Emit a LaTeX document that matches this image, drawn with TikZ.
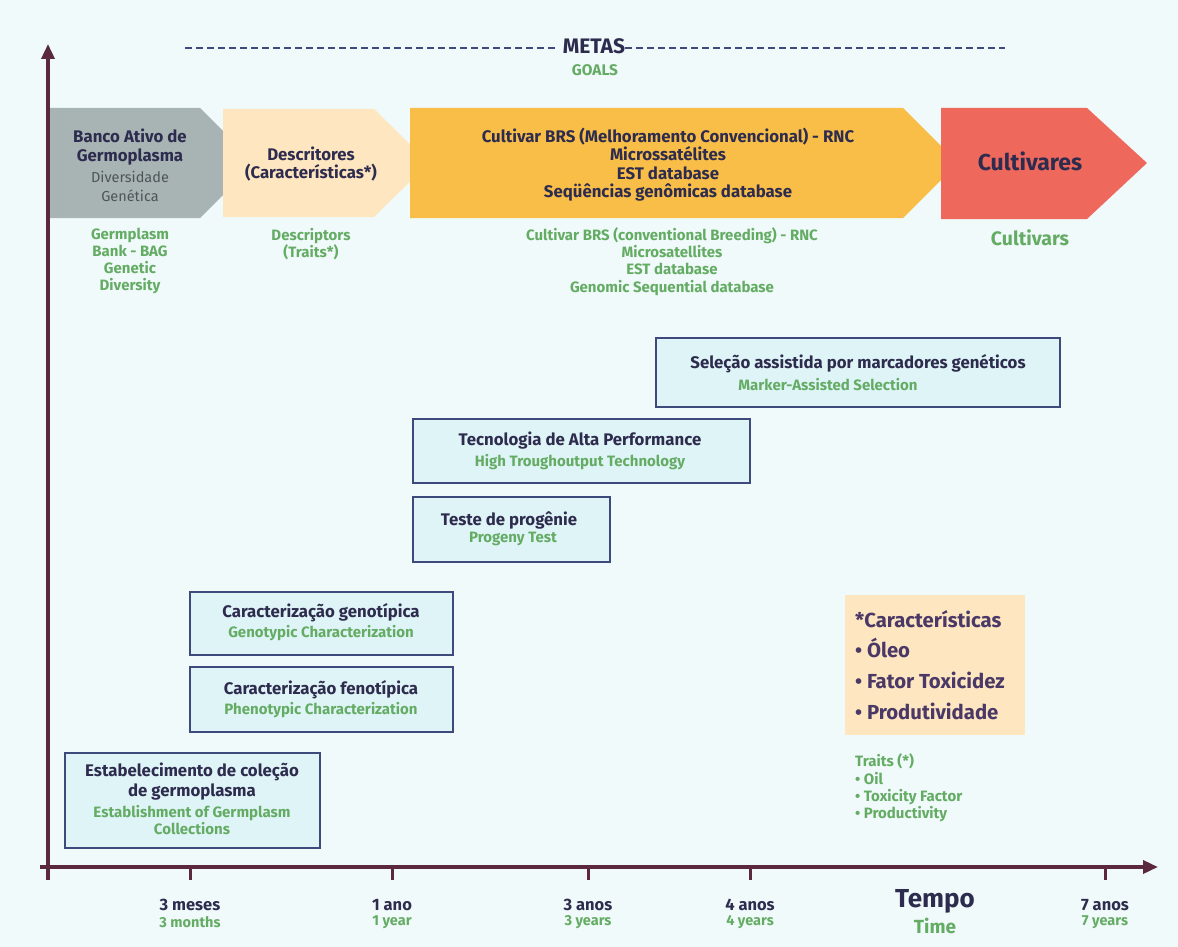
\documentclass[tikz,border=0pt]{standalone}
\usepackage{fontspec}
\setmainfont{Fira Sans}
\usetikzlibrary{arrows.meta}
\definecolor{bg}{RGB}{240,250,250}
\definecolor{navy}{RGB}{46,44,78}
\definecolor{boxc}{RGB}{62,74,124}
\definecolor{boxfill}{RGB}{223,244,247}
\definecolor{grn}{RGB}{100,172,100}
\definecolor{axisc}{RGB}{92,40,62}
\definecolor{grayar}{RGB}{168,180,180}
\definecolor{graytext}{RGB}{78,84,90}
\definecolor{beigear}{RGB}{253,230,192}
\definecolor{orangear}{RGB}{249,190,72}
\definecolor{redar}{RGB}{238,104,92}
\definecolor{purp}{RGB}{74,56,102}
\begin{document}
\begin{tikzpicture}[x=1pt,y=-1pt,
  pt/.style={font=\bfseries\fontsize{16.8}{18.4}\selectfont, text=navy, align=center, inner sep=0pt},
  en/.style={font=\bfseries\fontsize{15}{17.2}\selectfont, text=grn, align=center, inner sep=0pt},
  tbox/.style={draw=boxc, line width=2.6pt, fill=boxfill, inner sep=0pt},
  axisline/.style={draw=axisc, line width=3.5pt},
  ticklbl/.style={font=\bfseries\fontsize{16.5}{18}\selectfont, text=navy, inner sep=0pt},
  ticklblen/.style={font=\bfseries\fontsize{14.5}{16}\selectfont, text=grn, inner sep=0pt}]
\useasboundingbox (0,0) rectangle (1178,947);
\fill[bg] (0,0) rectangle (1178,947);

% goal arrows
\fill[grayar] (50,108) -- (200,108) -- (255,163) -- (200,218) -- (50,218) -- cycle;
\fill[beigear] (223,109) -- (374,109) -- (429,163) -- (374,217) -- (223,217) -- cycle;
\fill[orangear] (410,108) -- (903,108) -- (958,163) -- (903,218) -- (410,218) -- cycle;
\fill[redar] (941,108) -- (1087,108) -- (1147,163) -- (1087,219) -- (941,219) -- cycle;

% dashed METAS line
\node[font=\bfseries\fontsize{21}{24}\selectfont, text=navy, inner sep=0pt] (metas) at (594,46) {METAS};
\node[font=\bfseries\fontsize{15.4}{18}\selectfont, text=grn, inner sep=0pt] (goals) at (595,70) {GOALS};
\coordinate (dl1) at (185,48);
\coordinate (dl2) at (1005,48);
\draw[boxc, line width=2pt, dash pattern=on 7pt off 4pt] (dl1) -- ([xshift=-5pt]dl1 -| metas.west);
\draw[boxc, line width=2pt, dash pattern=on 7pt off 4pt] (dl2 -| metas.east) -- (dl2);

% texts in arrows
\node[pt] (bag) at (130,147) {Banco Ativo de\\Germoplasma};
\node[font=\fontsize{14.5}{19.5}\selectfont, text=graytext, align=center, inner sep=0pt] (bagdiv) at (130,186.5) {Diversidade\\Genética};
\node[en] (bagen) at (130,261) {Germplasm\\Bank - BAG\\Genetic\\Diversity};
\node[pt] (desc) at (311,164) {Descritores\\(Características*)};
\node[en] (descen) at (311,244.5) {Descriptors\\(Traits*)};
\node[pt] (cult) at (668,164.5) {Cultivar BRS (Melhoramento Convencional) - RNC\\Microssatélites\\EST database\\Seqüências genômicas database};
\node[en] (culten) at (672,261.5) {Cultivar BRS (conventional Breeding) - RNC\\Microsatellites\\EST database\\Genomic Sequential database};
\node[font=\bfseries\fontsize{23}{26}\selectfont, text=navy, inner sep=0pt] (cv) at (1030,161) {Cultivares};
\node[font=\bfseries\fontsize{19.5}{22}\selectfont, text=grn, inner sep=0pt] (cven) at (1030,238) {Cultivars};

% activity boxes
\node[tbox, minimum width=404pt, minimum height=69pt] (sel) at (858,372.5) {};
\node[pt] (selpt) at (858,364) {Seleção assistida por marcadores genéticos};
\node[en] (selen) at (828,385) {Marker-Assisted Selection};

\node[tbox, minimum width=337pt, minimum height=64pt] (tec) at (581.5,451) {};
\node[pt] (tecpt) at (580,441) {Tecnologia de Alta Performance};
\node[en] (tecen) at (580,462) {High Troughoutput Technology};

\node[tbox, minimum width=197pt, minimum height=65pt] (tes) at (511.5,529.5) {};
\node[pt] (tespt) at (509,520) {Teste de progênie};
\node[en] (tesen) at (513,539) {Progeny Test};

\node[tbox, minimum width=263pt, minimum height=63pt] (gen) at (321.5,623.5) {};
\node[pt] (genpt) at (321,613) {Caracterização genotípica};
\node[en] (genen) at (321,633) {Genotypic Characterization};

\node[tbox, minimum width=263pt, minimum height=65pt] (fen) at (321.5,699.5) {};
\node[pt] (fenpt) at (321,690) {Caracterização fenotípica};
\node[en] (fenen) at (321,710) {Phenotypic Characterization};

\node[tbox, minimum width=255pt, minimum height=95pt] (est) at (192.5,800.5) {};
\node[pt, font=\bfseries\fontsize{16.8}{20}\selectfont] (estpt) at (192,782) {Estabelecimento de coleção\\de germoplasma};
\node[en] (esten) at (192,820) {Establishment of Germplasm\\Collections};

% legend
\fill[beigear] (845,595) rectangle (1025,735);
\node[font=\bfseries\fontsize{20.3}{30.7}\selectfont, text=purp, align=left, anchor=west, inner sep=0pt] (leg) at (855,665) {*Características\\• Óleo\\• Fator Toxicidez\\• Produtividade};
\node[font=\bfseries\fontsize{15}{17.3}\selectfont, text=grn, align=left, anchor=west, inner sep=0pt] (legen) at (855,788) {Traits (*)\\• Oil\\• Toxicity Factor\\• Productivity};

% axes
\coordinate (ybot) at (48,880);
\coordinate (ytop) at (48,44);
\coordinate (xl) at (40,867);
\coordinate (xr) at (1158,867);
\draw[axisline, -{Triangle[length=15pt,width=13pt]}] (ybot) -- (ytop);
\draw[axisline, -{Triangle[length=15pt,width=13pt]}] (xl) -- (xr);
\foreach \x in {190,392,588,750,1105} \draw[axisc, line width=3pt] (\x,867) -- (\x,880);

% axis labels
\node[ticklbl] (t1) at (190,905) {3 meses};
\node[ticklblen] (t1en) at (190,922) {3 months};
\node[ticklbl] (t2) at (392,905) {1 ano};
\node[ticklblen] (t2en) at (392,922) {1 year};
\node[ticklbl] (t3) at (588,905) {3 anos};
\node[ticklblen] (t3en) at (588,922) {3 years};
\node[ticklbl] (t4) at (750,905) {4 anos};
\node[ticklblen] (t4en) at (750,922) {4 years};
\node[ticklbl] (t7) at (1105,905) {7 anos};
\node[ticklblen] (t7en) at (1105,922) {7 years};
\node[font=\bfseries\fontsize{26}{28}\selectfont, text=navy, inner sep=0pt] (tempo) at (935,901) {Tempo};
\node[font=\bfseries\fontsize{19}{21}\selectfont, text=grn, inner sep=0pt] (time) at (935,926) {Time};
\end{tikzpicture}
\end{document}
